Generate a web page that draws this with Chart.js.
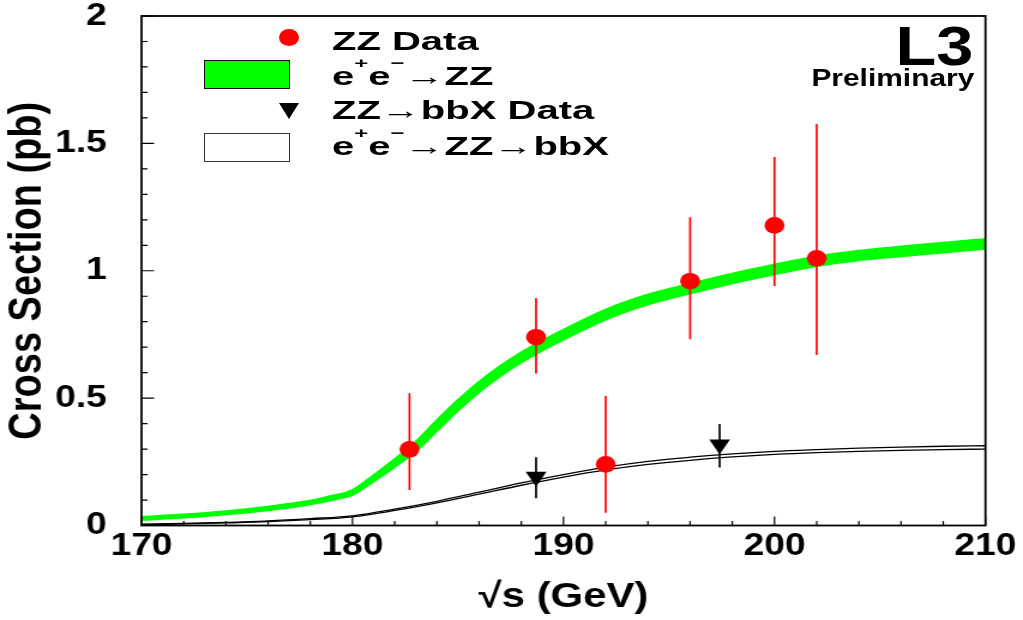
<!DOCTYPE html>
<html>
<head>
<meta charset="utf-8">
<script src="https://cdn.jsdelivr.net/npm/chart.js@4.4.0/dist/chart.umd.min.js"></script>
<style>
  body { margin: 0; background: #fff; }
  #wrap { position: relative; width: 1023px; height: 620px; overflow: hidden;
          font-family: 'Liberation Sans', Arial, sans-serif; font-weight: bold; color: #000; }
  /* canvas drawn narrower and stretched sideways, like the original plot */
  #grafico { display: block; width: 1023px; height: 620px; }
  .leg { position: absolute; left: 332px; font-size: 25px; line-height: 25px; white-space: nowrap;
         transform: scaleX(1.6); transform-origin: 0 0; }
  .sup { font-size: 15px; position: relative; top: -17px; }
  .sym { position: absolute; box-sizing: border-box; }
</style>
</head>
<body>
<div id="wrap">
  <canvas id="grafico" width="853" height="620" style="width:1023px;height:620px"></canvas>

  <!-- legenda -->
  <div class="sym" style="left:279px;top:29px;width:20px;height:17px;border-radius:50%;background:#ff0000"></div>
  <div class="sym" style="left:204px;top:60px;width:86px;height:29px;background:#00ff00;border:1.5px solid #111"></div>
  <div class="sym" style="left:279px;top:103px;width:0;height:0;border-left:10px solid transparent;border-right:10px solid transparent;border-top:16px solid #000"></div>
  <div class="sym" style="left:204px;top:133px;width:86px;height:29px;background:#fff;border:1.5px solid #333"></div>

  <div class="leg" style="top:29px">ZZ Data</div>
  <div class="leg" style="top:64px">e<span class="sup">+</span>e<span class="sup">−</span>→ZZ</div>
  <div class="leg" style="top:98px">ZZ→bbX Data</div>
  <div class="leg" style="top:134px">e<span class="sup">+</span>e<span class="sup">−</span>→ZZ→bbX</div>

  <div style="position:absolute;right:50px;top:18px;font-size:56px;line-height:56px;transform:scaleX(1.19);transform-origin:100% 0">L3</div>
  <div style="position:absolute;right:49px;top:67px;font-size:23px;line-height:23px;transform:scaleX(1.3);transform-origin:100% 0">Preliminary</div>
</div>

<script>
// theory band e+e- -> ZZ (upper and lower edge)
const energia = [170, 172, 174, 176, 178, 179, 180, 181, 182, 183, 184, 185, 186, 187, 188, 189, 190,
                 192, 194, 196, 198, 200, 202, 204, 206, 208, 210];
const zzMax = [0.030, 0.039, 0.052, 0.070, 0.093, 0.112, 0.135, 0.192, 0.255, 0.323, 0.407, 0.487, 0.559,
               0.621, 0.675, 0.722, 0.764, 0.843, 0.902, 0.945, 0.985, 1.020, 1.052, 1.075, 1.091, 1.106, 1.120];
const zzMin = [0.026, 0.035, 0.048, 0.064, 0.087, 0.104, 0.125, 0.178, 0.235, 0.297, 0.377, 0.457, 0.529,
               0.591, 0.645, 0.692, 0.734, 0.813, 0.872, 0.915, 0.955, 0.990, 1.022, 1.045, 1.061, 1.076, 1.090];

// theory band e+e- -> ZZ -> bbX
const energiaBB = [170, 172, 174, 176, 178, 180, 182, 184, 186, 188, 190, 192, 194, 196, 198, 200, 202, 204, 206, 208, 210];
const bbMax = [0.005, 0.008, 0.012, 0.018, 0.027, 0.038, 0.064, 0.095, 0.131, 0.167, 0.200, 0.229, 0.252, 0.268,
               0.281, 0.291, 0.298, 0.304, 0.308, 0.311, 0.313];
const bbMin = [0.003, 0.006, 0.010, 0.015, 0.023, 0.034, 0.059, 0.089, 0.123, 0.158, 0.190, 0.218, 0.240, 0.256,
               0.269, 0.279, 0.286, 0.291, 0.295, 0.298, 0.300];

// ZZ data
const zzX = [182.7, 188.7, 192.0, 196.0, 200.0, 202.0];
const zzY = [0.299, 0.739, 0.240, 0.959, 1.178, 1.049];
const zzErrAlto = [0.519, 0.892, 0.508, 1.210, 1.447, 1.576];
const zzErrBaixo = [0.139, 0.597, 0.050, 0.731, 0.940, 0.669];

// ZZ -> bbX data
const bbX = [188.7, 197.4];
const bbY = [0.191, 0.318];
const bbErrAlto = [0.268, 0.398];
const bbErrBaixo = [0.107, 0.228];

const xTicks = [170, 180, 190, 200, 210];
const xTickLabels = ['170', '180', '190', '200', '210'];
const yTicks = [0, 0.5, 1, 1.5, 2];
const yTickLabels = ['0', '0.5', '1', '1.5', '2'];

const fonte = "'Liberation Sans', Arial, sans-serif";

function pontos(xs, ys) {
  return xs.map((x, i) => ({ x: x, y: ys[i] }));
}

// error bars, drawn through the chart scales
const barras = {
  id: 'barras',
  afterDatasetsDraw(chart) {
    const ctx = chart.ctx;
    const x = chart.scales.x, y = chart.scales.y;
    ctx.save();
    ctx.lineWidth = 1.7;
    ctx.strokeStyle = '#ff0000';
    ctx.beginPath();
    zzX.forEach((e, i) => {
      ctx.moveTo(x.getPixelForValue(e), y.getPixelForValue(zzErrAlto[i]));
      ctx.lineTo(x.getPixelForValue(e), y.getPixelForValue(zzErrBaixo[i]));
    });
    ctx.stroke();
    ctx.strokeStyle = '#000';
    ctx.beginPath();
    bbX.forEach((e, i) => {
      ctx.moveTo(x.getPixelForValue(e), y.getPixelForValue(bbErrAlto[i]));
      ctx.lineTo(x.getPixelForValue(e), y.getPixelForValue(bbErrBaixo[i]));
    });
    ctx.stroke();
    ctx.restore();
  }
};

// frame + inner ticks (ROOT style)
const moldura = {
  id: 'moldura',
  afterDraw(chart) {
    const ctx = chart.ctx;
    const a = chart.chartArea;
    const x = chart.scales.x, y = chart.scales.y;
    ctx.save();
    ctx.strokeStyle = '#000';
    ctx.lineWidth = 1.2;
    ctx.beginPath();
    for (let v = 170; v <= 210; v += 2) {
      const px = x.getPixelForValue(v);
      const len = (v % 10 === 0) ? 9 : 4.5;
      ctx.moveTo(px, a.bottom);
      ctx.lineTo(px, a.bottom - len);
    }
    for (let k = 0; k <= 20; k++) {
      const py = y.getPixelForValue(k / 10);
      const len = (k % 5 === 0) ? 10.5 : 5;
      ctx.moveTo(a.left, py);
      ctx.lineTo(a.left + len, py);
    }
    ctx.stroke();
    ctx.lineWidth = 1.8;
    ctx.strokeRect(a.left, a.top, a.right - a.left, a.bottom - a.top);
    ctx.restore();
  }
};

new Chart(document.getElementById('grafico'), {
  type: 'line',
  data: {
    datasets: [
      {
        label: 'ZZ Data',
        data: pontos(zzX, zzY),
        showLine: false,
        pointStyle: 'circle',
        pointRadius: 8.3,
        pointBorderWidth: 0,
        pointBackgroundColor: '#ff0000'
      },
      {
        label: 'ZZ→bbX Data',
        data: pontos(bbX, bbY),
        showLine: false,
        pointStyle: 'triangle',
        pointRotation: 180,
        pointRadius: 10,
        pointBorderWidth: 0,
        pointBackgroundColor: '#000'
      },
      {
        label: 'e+e-→ZZ',
        data: pontos(energia, zzMax),
        borderColor: '#00ff00',
        backgroundColor: '#00ff00',
        borderWidth: 4,
        pointRadius: 0,
        cubicInterpolationMode: 'monotone',
        fill: '+1'
      },
      {
        label: 'e+e-→ZZ low',
        data: pontos(energia, zzMin),
        borderColor: '#00ff00',
        borderWidth: 4,
        pointRadius: 0,
        cubicInterpolationMode: 'monotone',
        fill: false
      },
      {
        label: 'e+e-→ZZ→bbX',
        data: pontos(energiaBB, bbMax),
        borderColor: '#000',
        borderWidth: 1.3,
        pointRadius: 0,
        cubicInterpolationMode: 'monotone',
        fill: false
      },
      {
        label: 'e+e-→ZZ→bbX low',
        data: pontos(energiaBB, bbMin),
        borderColor: '#000',
        borderWidth: 1.3,
        pointRadius: 0,
        cubicInterpolationMode: 'monotone',
        fill: false
      }
    ]
  },
  options: {
    responsive: false,
    animation: false,
    devicePixelRatio: 1,
    layout: { padding: { top: 16, right: 31.3, left: 0, bottom: 0 } },
    plugins: { legend: { display: false }, tooltip: { enabled: false } },
    scales: {
      x: {
        type: 'linear',
        min: 170,
        max: 210,
        afterBuildTicks: (s) => { s.ticks = xTicks.map(v => ({ value: v })); },
        afterFit: (s) => { s.height = 94.5; s.paddingLeft = 0; s.paddingRight = 0; },
        grid: { display: false, drawTicks: false, tickLength: 0 },
        border: { display: false },
        ticks: {
          autoSkip: false,
          maxRotation: 0,
          padding: 5,
          color: '#000',
          font: { family: fonte, size: 31, weight: 'bold', lineHeight: 1 },
          callback: (v, i) => xTickLabels[i]
        },
        title: {
          display: true,
          text: '√s (GeV)',
          color: '#000',
          padding: { top: 0, bottom: 5 },
          font: { family: fonte, size: 35, weight: 'bold', lineHeight: 1 }
        }
      },
      y: {
        min: 0,
        max: 2,
        afterBuildTicks: (s) => { s.ticks = yTicks.map(v => ({ value: v })); },
        afterFit: (s) => { s.width = 118; s.paddingTop = 0; s.paddingBottom = 0; },
        grid: { display: false, drawTicks: false, tickLength: 0 },
        border: { display: false },
        ticks: {
          autoSkip: false,
          padding: 29,
          color: '#000',
          font: { family: fonte, size: 31, weight: 'bold', lineHeight: 1 },
          callback: (v, i) => yTickLabels[i]
        },
        title: {
          display: true,
          text: 'Cross Section (pb)',
          color: '#000',
          padding: { top: 4.6, bottom: 0 },
          font: { family: fonte, size: 38, weight: 'bold', lineHeight: 1 }
        }
      }
    }
  },
  plugins: [barras, moldura]
});
</script>
</body>
</html>
